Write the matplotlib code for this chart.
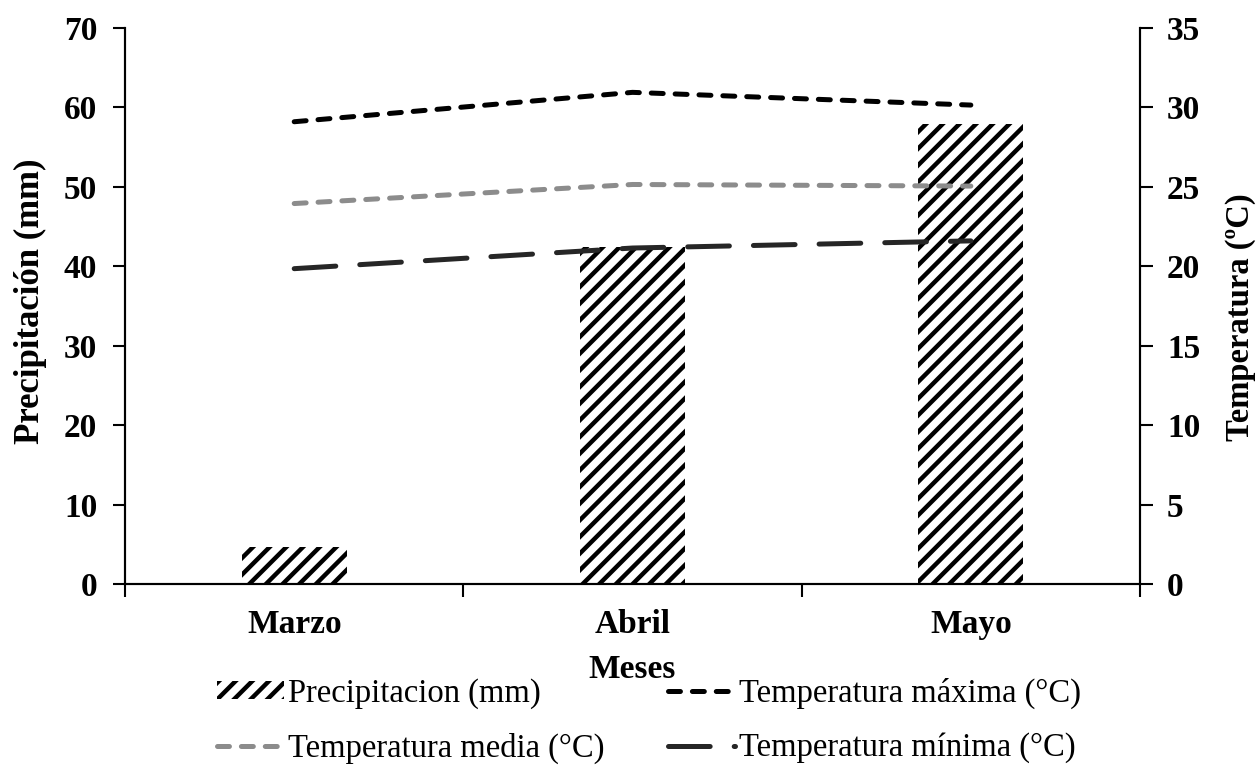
import matplotlib
matplotlib.use("Agg")
import matplotlib.pyplot as plt
import numpy as np

meses = ["Marzo", "Abril", "Mayo"]
precipitacion = [4.6, 42.4, 57.9]
temp_max = [29.1, 30.95, 30.15]
temp_media = [23.95, 25.15, 25.05]
temp_min = [19.85, 21.15, 21.6]

plt.rcParams['font.family'] = ['Liberation Serif', 'DejaVu Serif']
plt.rcParams['hatch.linewidth'] = 3.2
plt.rcParams['lines.scale_dashes'] = False

fig = plt.figure(figsize=(12.58, 7.7), dpi=100)
ax = fig.add_axes([0.0994, 0.2416, 0.8068, 0.722])
ax2 = ax.twinx()

x = np.arange(len(meses))
bars = ax.bar(x, precipitacion, width=0.31, color='white', edgecolor='black',
              linewidth=0, hatch='//', label='Precipitacion (mm)', zorder=1)

l_max, = ax2.plot(x, temp_max, color='black', lw=3.6, dashes=(8.6, 8.6),
                  dash_capstyle='round', label='Temperatura máxima (°C)')
l_med, = ax2.plot(x, temp_media, color='#8c8c8c', lw=3.6, dashes=(8.6, 8.6),
                  dash_capstyle='round', label='Temperatura media (°C)')
l_min, = ax2.plot(x, temp_min, color='#262626', lw=3.6, dashes=(30, 17.3),
                  dash_capstyle='round', label='Temperatura mínima (°C)')

ax.set_xlim(-0.5, 2.5)
ax.set_ylim(0, 70)
ax2.set_ylim(0, 35)
ax.set_yticks(range(0, 71, 10))
ax2.set_yticks(range(0, 36, 5))

ax.set_xticks(x)
ax.set_xticklabels(meses, fontsize=24, fontweight='bold')
ax.set_xticks([-0.5, 0.5, 1.5, 2.5], minor=True)
ax.tick_params(axis='x', which='major', length=0, pad=18)
ax.tick_params(axis='x', which='minor', length=9, width=1.5, direction='out')
ax.tick_params(axis='y', length=9, width=1.5, direction='out', labelsize=24, pad=11)
ax2.tick_params(axis='y', length=9, width=1.5, direction='out', labelsize=24, pad=10.5)
for lab in ax.get_yticklabels() + ax2.get_yticklabels():
    lab.set_fontweight('bold')

for a in (ax, ax2):
    a.spines['top'].set_visible(False)
    for s in ('left', 'right', 'bottom'):
        a.spines[s].set_linewidth(1.5)

ax.set_ylabel('Precipitación (mm)', fontsize=25, fontweight='bold', labelpad=12, y=0.509)
ax2.set_ylabel('Temperatura (ºC)', fontsize=23.5, fontweight='bold', labelpad=18, y=0.48)
ax.set_xlabel('Meses', fontsize=24, fontweight='bold', labelpad=10)

handles = [bars, l_med, l_max, l_min]
labels = [h.get_label() for h in handles]
fig.legend(handles, labels, ncol=2, loc='upper center', bbox_to_anchor=(0.516, 0.141),
           frameon=False, fontsize=23.5, handlelength=2.05, handleheight=0.5,
           handletextpad=0.12, columnspacing=1.95, labelspacing=0.72, borderpad=0)

fig.savefig('out.png', dpi=100)
